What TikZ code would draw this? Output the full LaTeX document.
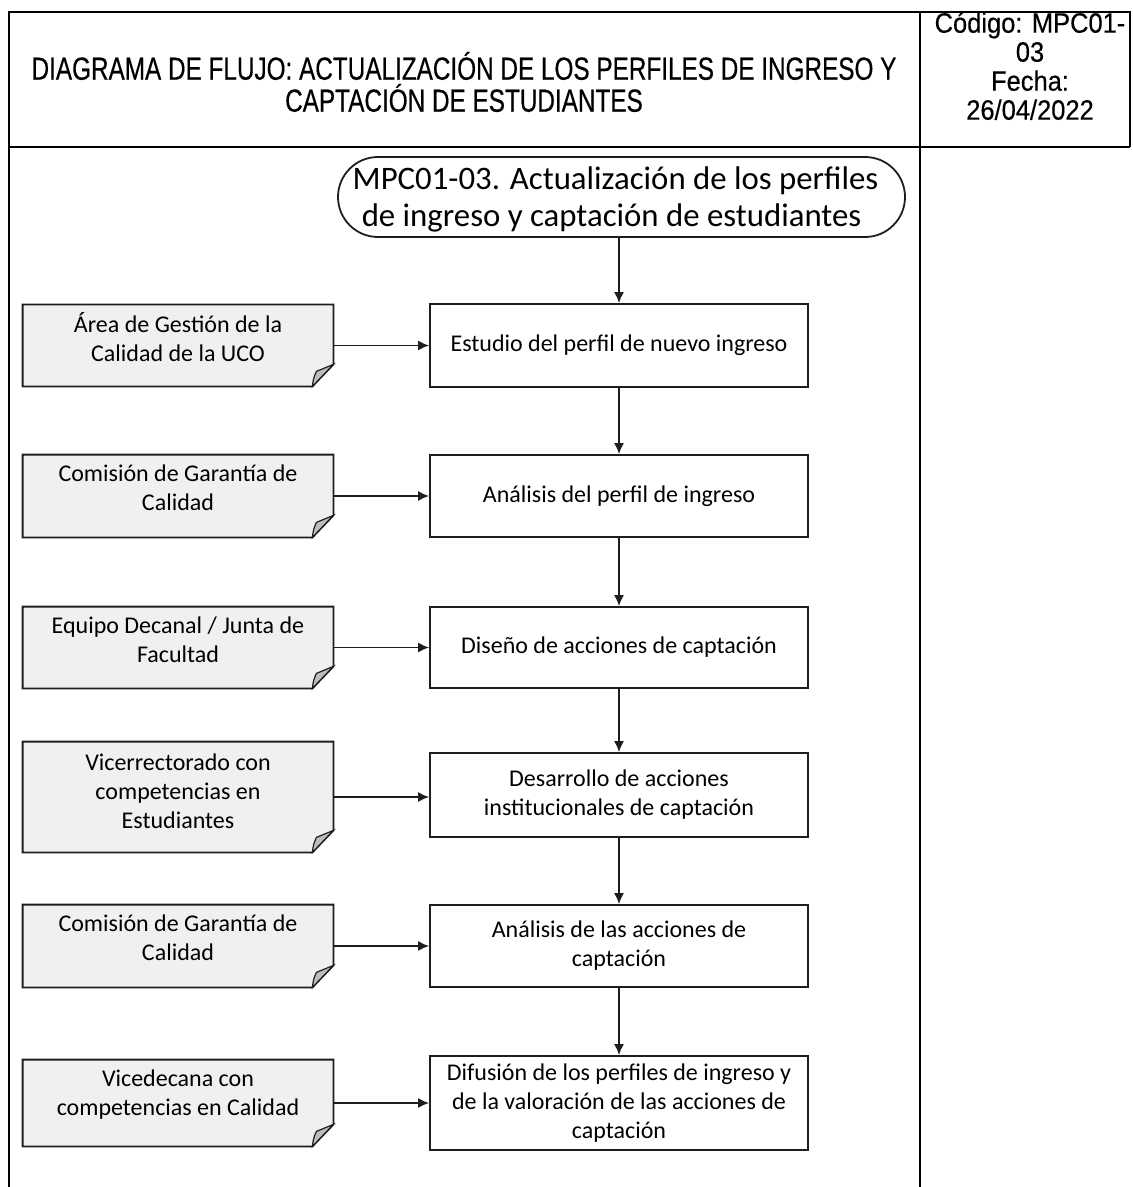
\documentclass[tikz,border=0pt]{standalone}
\usepackage{fontspec}
\setmainfont{Carlito}
\newfontfamily\hdrfont[FakeStretch=0.76,FakeBold=0.4]{Liberation Sans}
\newfontfamily\codefont[FakeStretch=0.91,FakeBold=0.4]{Liberation Sans}
\usetikzlibrary{arrows.meta,backgrounds}
\definecolor{ink}{HTML}{1E1E1E}
\definecolor{notegray}{HTML}{F0F0F0}
\definecolor{flapgray}{HTML}{BDBDBD}
\begin{document}
\begin{tikzpicture}[x=0.5pt,y=-0.5pt,
  tbl/.style={line width=1.3pt, draw=black},
  procbox/.style={draw=ink, line width=0.9pt, minimum width=189pt, inner sep=2pt, align=center, font=\fontsize{12}{14.5}\selectfont, text=black},
  notebox/.style={minimum width=155pt, inner sep=0pt},
  notetext/.style={align=center, inner sep=0pt, font=\fontsize{12}{14.5}\selectfont, text=black},
  termbox/.style={draw=ink, line width=0.9pt, rectangle, rounded corners=20pt, minimum width=283.5pt, minimum height=40pt, align=center, inner sep=0pt, font=\fontsize{16.4}{18.5}\selectfont, text=black},
  arr/.style={draw=ink, line width=0.8pt, -{Latex[length=5.5pt,width=5pt]}},
  hdr/.style={align=center, inner sep=0pt, text=black}
]
\useasboundingbox (0,0) rectangle (1132,1187);

% table frame
\draw[tbl] (9,1187) -- (9,12) -- (1130,12) -- (1130,147);
\draw[tbl] (9,147) -- (1130,147);
\draw[tbl] (920,12) -- (920,1187);

\node[hdr, font=\hdrfont\fontsize{16}{16}\selectfont] (title) at (464,82)
  {DIAGRAMA DE FLUJO: ACTUALIZACIÓN DE LOS PERFILES DE INGRESO Y\\CAPTACIÓN DE ESTUDIANTES};
\node[hdr, font=\codefont\fontsize{14}{14.5}\selectfont] (code) at (1030,66)
  {Código: MPC01-\\03\\Fecha:\\26/04/2022};

% terminal
\node[termbox] (term) at (621.5,197)
  {\rule{0pt}{14pt}MPC01-03. Actualización de los perfiles\hspace*{6pt}\\de ingreso y captación de estudiantes\hspace*{10pt}};

% process boxes
\node[procbox, minimum height=41.5pt] (b1) at (619,345.5) {Estudio del perfil de nuevo ingreso};
\node[procbox, minimum height=41pt]   (b2) at (619,496)   {Análisis del perfil de ingreso};
\node[procbox, minimum height=40.5pt] (b3) at (619,647.5) {Diseño de acciones de captación};
\node[procbox, minimum height=42pt]   (b4) at (619,795)   {Desarrollo de acciones\\institucionales de captación};
\node[procbox, minimum height=41pt]   (b5) at (619,946)   {Análisis de las acciones de\\captación};
\node[procbox, minimum height=47pt]   (b6) at (619,1103)  {Difusión de los perfiles de ingreso y\\de la valoración de las acciones de\\captación};

% note shapes (geometry)
\node[notebox, minimum height=40.5pt] (n1) at (178,345.5) {};
\node[notebox, minimum height=41pt]   (n2) at (178,496)   {};
\node[notebox, minimum height=40.5pt] (n3) at (178,647.5) {};
\node[notebox, minimum height=55pt]   (n4) at (178,797)   {};
\node[notebox, minimum height=41pt]   (n5) at (178,946)   {};
\node[notebox, minimum height=43pt]   (n6) at (178,1103)  {};

\begin{scope}[on background layer]
\foreach \n in {n1,n2,n3,n4,n5,n6}{
  \filldraw[fill=notegray, draw=ink, line width=0.9pt, line join=miter]
    (\n.north west) -- (\n.north east) -- ([yshift=11pt]\n.south east)
    -- ([xshift=-10.5pt]\n.south east) -- (\n.south west) -- cycle;
  \filldraw[fill=flapgray, draw=ink, line width=0.6pt]
    ([xshift=-10.5pt]\n.south east) .. controls ([xshift=-10pt,yshift=4pt]\n.south east) .. ([xshift=-8.5pt,yshift=7.5pt]\n.south east)
    -- ([yshift=11pt]\n.south east) -- cycle;
}
\end{scope}

% note texts
\node[notetext] (t1) at ([yshift=4pt]n1.center) {Área de Gestión de la\\Calidad de la UCO};
\node[notetext] (t2) at ([yshift=4pt]n2.center) {Comisión de Garantía de\\Calidad};
\node[notetext] (t3) at ([yshift=4pt]n3.center) {Equipo Decanal / Junta de\\Facultad};
\node[notetext] (t4) at ([yshift=3pt]n4.center) {Vicerrectorado con\\competencias en\\Estudiantes};
\node[notetext] (t5) at ([yshift=4pt]n5.center) {Comisión de Garantía de\\Calidad};
\node[notetext] (t6) at ([yshift=4pt]n6.center) {Vicedecana con\\competencias en Calidad};

% vertical flow
\draw[arr] (term.south -| b1.north) -- (b1.north);
\draw[arr] (b1) -- (b2);
\draw[arr] (b2) -- (b3);
\draw[arr] (b3) -- (b4);
\draw[arr] (b4) -- (b5);
\draw[arr] (b5) -- (b6);

% notes to boxes
\foreach \i in {1,...,6}{
  \draw[arr] (n\i.east) -- (n\i.east -| b\i.west);
}
\end{tikzpicture}
\end{document}
